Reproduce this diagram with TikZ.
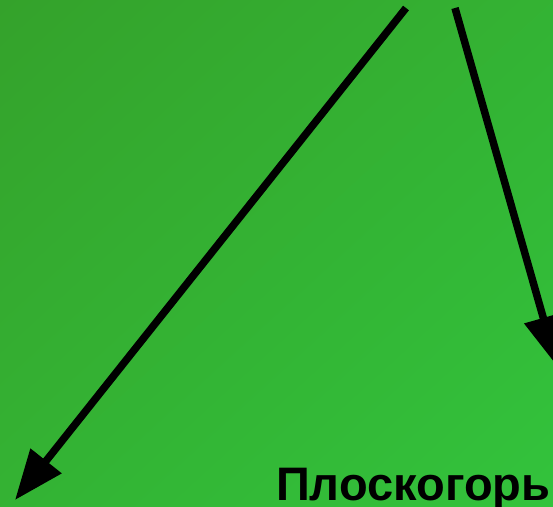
\documentclass[tikz,border=0pt]{standalone}
\usepackage{fontspec}
\setmainfont{Liberation Sans}
\usepackage{tikz}
\usetikzlibrary{arrows.meta,shadings}
\definecolor{bgdark}{RGB}{52,162,43}
\definecolor{bglight}{RGB}{51,195,60}
\tikzset{
  pl arrow/.style={-{Triangle[length=50pt,width=38pt]}, line width=7.5pt, black},
  pl label/.style={font=\bfseries\fontsize{47}{53}\selectfont, inner sep=0pt, anchor=base west},
}
\begin{document}
\begin{tikzpicture}[x=1pt,y=-1pt]
  \useasboundingbox (0,0) rectangle (553,506);
  \clip (0,0) rectangle (553,506);
  \shade[upper left=bgdark, lower right=bglight, upper right=bgdark!50!bglight, lower left=bgdark!50!bglight]
    (0,0) rectangle (553,506);

  \coordinate (top left)  at (406,8);
  \coordinate (top right) at (455,8);
  \coordinate (low left)  at (15,500);
  \coordinate (low right) at (557,366);

  \node[pl label] (plateau) at (276,500) {Плоскогорь};

  \draw[pl arrow] (top left) -- (low left);
  \draw[pl arrow] (top right) -- (low right);
\end{tikzpicture}
\end{document}
